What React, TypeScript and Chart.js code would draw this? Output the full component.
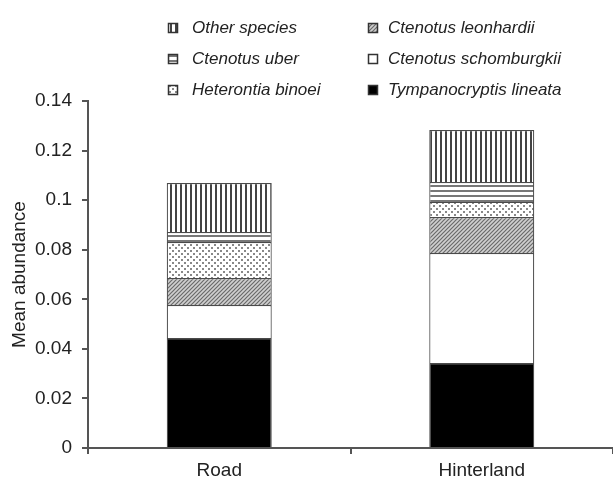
import React, { useEffect, useRef } from "react";
import { Chart, registerables } from "chart.js";

Chart.register(...registerables);

const categories = ["Road", "Hinterland"];
const seriesNames = [
  "Tympanocryptis lineata",
  "Ctenotus schomburgkii",
  "Ctenotus leonhardii",
  "Heterontia binoei",
  "Ctenotus uber",
  "Other species",
];
const tympanocryptisLineata = [0.0444, 0.0343];
const ctenotusSchomburgkii = [0.0133, 0.0444];
const ctenotusLeonhardii = [0.0109, 0.0145];
const heterontiaBinoei = [0.0145, 0.0061];
const ctenotusUber = [0.004, 0.008];
const otherSpecies = [0.0198, 0.021];
const yTicks = [0, 0.02, 0.04, 0.06, 0.08, 0.1, 0.12, 0.14];

const FONT = "'Liberation Sans', Arial, sans-serif";
const TEXT = "#222";

function tile(w: number, h: number, draw: (c: CanvasRenderingContext2D) => void): CanvasPattern | string {
  const cv = document.createElement("canvas");
  cv.width = w;
  cv.height = h;
  const c = cv.getContext("2d");
  if (!c) return "#fff";
  draw(c);
  const p = c.createPattern(cv, "repeat");
  return p || "#fff";
}

function makeFills(): (CanvasPattern | string)[] {
  const vertical = tile(5, 5, (c) => {
    c.fillStyle = "#fff";
    c.fillRect(0, 0, 5, 5);
    c.fillStyle = "#444";
    c.fillRect(0, 0, 2, 5);
  });
  const horizontal = tile(5, 5, (c) => {
    c.fillStyle = "#fff";
    c.fillRect(0, 0, 5, 5);
    c.fillStyle = "#777";
    c.fillRect(0, 0, 5, 2);
  });
  const dotted = tile(6, 6, (c) => {
    c.fillStyle = "#fff";
    c.fillRect(0, 0, 6, 6);
    c.fillStyle = "#888";
    c.fillRect(1, 1, 2, 2);
    c.fillRect(4, 4, 2, 2);
  });
  const hatched = tile(4, 4, (c) => {
    c.fillStyle = "#d0d0d0";
    c.fillRect(0, 0, 4, 4);
    c.strokeStyle = "#6a6a6a";
    c.lineWidth = 1.2;
    c.beginPath();
    c.moveTo(-1, 5);
    c.lineTo(5, -1);
    c.moveTo(-1, 1);
    c.lineTo(1, -1);
    c.moveTo(3, 5);
    c.lineTo(5, 3);
    c.stroke();
  });
  return ["#000", "#fff", hatched, dotted, horizontal, vertical];
}

const legendPlugin = {
  id: "columnLegend",
  afterDraw(chart: any) {
    const ctx = chart.ctx as CanvasRenderingContext2D;
    const ds = chart.data.datasets;
    const order = [5, 4, 3, 2, 1, 0];
    const colBox = [168, 368];
    const colText = [192, 388];
    const rowY = [28, 59, 90];
    ctx.save();
    ctx.font = `italic 17px ${FONT}`;
    ctx.textBaseline = "middle";
    ctx.textAlign = "left";
    order.forEach((di, k) => {
      const col = Math.floor(k / 3);
      const row = k % 3;
      const d = ds[di];
      const y = rowY[row];
      ctx.fillStyle = d.backgroundColor;
      ctx.fillRect(colBox[col], y - 5, 10, 10);
      ctx.strokeStyle = "#333";
      ctx.lineWidth = 1.5;
      ctx.strokeRect(colBox[col] + 0.5, y - 4.5, 9, 9);
      ctx.fillStyle = TEXT;
      ctx.fillText(d.label, colText[col], y);
    });
    ctx.restore();
  },
};

export default function App() {
  const ref = useRef<HTMLCanvasElement | null>(null);

  useEffect(() => {
    document.body.style.margin = "0";
    const canvas = ref.current;
    if (!canvas) return;
    const fills = makeFills();
    const values = [
      tympanocryptisLineata,
      ctenotusSchomburgkii,
      ctenotusLeonhardii,
      heterontiaBinoei,
      ctenotusUber,
      otherSpecies,
    ];
    const chart = new Chart(canvas, {
      type: "bar",
      data: {
        labels: categories,
        datasets: values.map((v, i) => ({
          label: seriesNames[i],
          data: v,
          backgroundColor: fills[i] as any,
          borderColor: "#4a4a4a",
          borderWidth: 1.2,
          barPercentage: 0.4,
          categoryPercentage: 1,
        })),
      },
      options: {
        animation: false,
        responsive: false,
        devicePixelRatio: 1,
        layout: { padding: { top: 101, left: 0, right: 0, bottom: 0 } },
        plugins: {
          legend: { display: false },
          tooltip: { enabled: false },
        },
        scales: {
          x: {
            stacked: true,
            afterFit: (s: any) => {
              s.height = 38;
            },
            grid: {
              drawOnChartArea: false,
              drawTicks: true,
              tickLength: 6,
              color: "#555",
              lineWidth: 2,
              offset: true,
            },
            border: { color: "#555", width: 2 },
            ticks: { color: TEXT, font: { family: FONT, size: 19 }, padding: 5 },
          },
          y: {
            stacked: true,
            min: 0,
            max: 0.14,
            afterFit: (s: any) => {
              s.width = 88;
            },
            afterBuildTicks: (s: any) => {
              s.ticks = yTicks.map((v) => ({ value: v }));
            },
            grid: {
              drawOnChartArea: false,
              drawTicks: true,
              tickLength: 6,
              color: "#555",
              lineWidth: 2,
            },
            border: { color: "#555", width: 2 },
            ticks: {
              color: TEXT,
              font: { family: FONT, size: 19 },
              padding: 10,
              callback: (v: any) => String(Number(Number(v).toFixed(2))),
            },
            title: {
              display: true,
              text: "Mean abundance",
              color: TEXT,
              font: { family: FONT, size: 19 },
              padding: { top: 8, bottom: 0 },
            },
          },
        },
      },
      plugins: [legendPlugin],
    });
    return () => chart.destroy();
  }, []);

  return (
    <div style={{ width: 613, height: 486 }}>
      <canvas ref={ref} width={613} height={486} style={{ display: "block" }} />
    </div>
  );
}
